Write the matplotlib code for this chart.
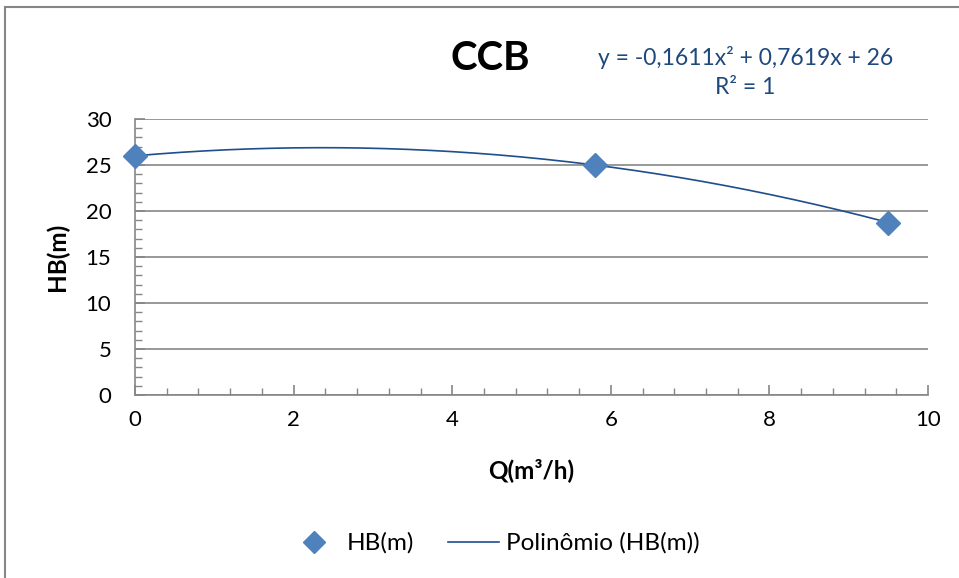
import matplotlib
matplotlib.use('Agg')
import matplotlib.pyplot as plt
from matplotlib.lines import Line2D
import numpy as np

# --- data ---
q_vals = [0, 5.8, 9.5]
hb_vals = [26, 25, 18.75]
x_ticks = [0, 2, 4, 6, 8, 10]
y_ticks = [0, 5, 10, 15, 20, 25, 30]

MARKER_COLOR = '#4f81bd'
TREND_COLOR = '#1f4e8c'
EQ_COLOR = '#1f497d'
GRID_COLOR = '#868686'

plt.rcParams['font.family'] = ['Lato', 'DejaVu Sans']

fig = plt.figure(figsize=(9.59, 5.78), dpi=100)
ax = fig.add_axes([0.1408, 0.3166, 0.8269, 0.4774])

# fitted polynomial trendline
coef = np.polyfit(q_vals, hb_vals, 2)
xs = np.linspace(min(q_vals), max(q_vals), 200)
ax.plot(xs, np.polyval(coef, xs), color=TREND_COLOR, lw=1.2, zorder=3)
ax.plot(q_vals, hb_vals, linestyle='none', marker='D', ms=12, color=MARKER_COLOR,
        zorder=4, clip_on=False)

ax.set_xlim(0, 10)
ax.set_ylim(0, 30)
ax.set_xticks(x_ticks)
ax.set_yticks(y_ticks)
ax.set_xticks(np.arange(0, 10.01, 0.4), minor=True)
ax.set_yticks(np.arange(0, 30.01, 1), minor=True)
ax.grid(axis='y', which='major', color=GRID_COLOR, lw=1.2)
ax.set_axisbelow(True)
for s in ['top', 'right']:
    ax.spines[s].set_visible(False)
for s in ['left', 'bottom']:
    ax.spines[s].set_color(GRID_COLOR)
    ax.spines[s].set_linewidth(1.2)
ax.tick_params(which='major', direction='in', length=7, color=GRID_COLOR, width=1.2,
               labelsize=16, pad=11)
ax.tick_params(which='minor', direction='in', length=5, color=GRID_COLOR, width=1.0)
ax.tick_params(axis='y', pad=17)

ax.set_xlabel('Q(m³/h)', fontsize=17.5, fontweight='bold', labelpad=20)
ax.set_ylabel('HB(m)', fontsize=17.5, fontweight='bold', labelpad=12)

fig.text(0.511, 0.898, 'CCB', ha='center', va='center', fontsize=29, fontweight='bold')
fig.text(0.777, 0.9, 'y = -0,1611x² + 0,7619x + 26', ha='center', va='center',
         fontsize=16.5, color=EQ_COLOR)
fig.text(0.777, 0.848, 'R² = 1', ha='center', va='center', fontsize=16.5, color=EQ_COLOR)

handles = [Line2D([], [], linestyle='none', marker='D', ms=11, color=MARKER_COLOR),
           Line2D([], [], color=TREND_COLOR, lw=1.2)]
fig.legend(handles, ['HB(m)', 'Polinômio (HB(m))'], loc='center', bbox_to_anchor=(0.515, 0.06),
           ncol=2, frameon=False, fontsize=17.5, handlelength=2.1, handletextpad=0.3,
           columnspacing=1.4)

# outer chart border
fig.patches.append(plt.Rectangle((0.005, -0.02), 1.2, 1.008, transform=fig.transFigure,
                                 fill=False, edgecolor='#868686', lw=1.5))

fig.savefig('out.png', dpi=100)
